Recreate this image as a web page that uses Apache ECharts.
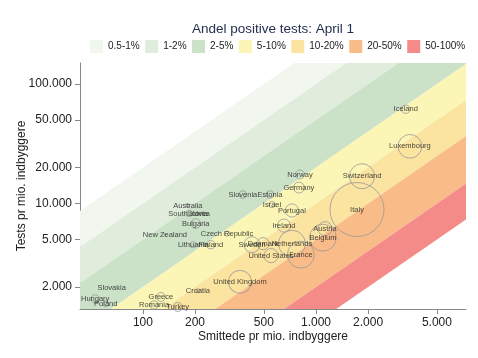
<!DOCTYPE html>
<html>
<head>
<meta charset="utf-8">
<script src="https://cdn.jsdelivr.net/npm/echarts@6/dist/echarts.min.js"></script>
<style>html,body{margin:0;padding:0;background:#fff}#c{width:478px;height:358px}</style>
</head>
<body>
<div id="c"></div>
<script>
// ---- data ----
const countries = ['Iceland','Luxembourg','Switzerland','Italy','Norway','Germany','Slovenia','Estonia','Israel','Portugal','Ireland','Austria','Belgium','Netherlands','France','United States','Sweden','Denmark','Czech Republic','Lithuania','Finland','Bulgaria','Australia','South Korea','Latvia','New Zealand','Slovakia','Hungary','Poland','Greece','Romania','Turkey','Croatia','United Kingdom'];
const casesPerMio = [3300,3490,1845,1726,808,797,378,542,557,726,653,1127,1097,726,818,550,427,494,306,195,247,202,182,185,208,134,66,53,61,127,116,159,208,364];
const testsPerMio = [61500,30100,16900,8900,17500,13600,11900,11900,9800,8740,6530,6160,5180,4610,3730,3660,4520,4610,5600,4520,4520,6790,9620,8240,8240,5490,1970,1590,1445,1650,1415,1360,1860,2210];
const deathsPerMio = [5,42,47,218,6,9,4,4,3,13,13,15,54,54,54,15,19,11,2,3,5,7,1,3,0.3,0.2,0,4.8,2.5,6,4.8,6,1.2,39];
const bandLabels = ['0.5-1%','1-2%','2-5%','5-10%','10-20%','20-50%','50-100%'];
const bandLowPct = [0.5,1,2,5,10,20,50];
const bandHighPct = [1,2,5,10,20,50,100];
const xTicks = [100,200,500,1000,2000,5000];
const yTicks = [2000,5000,10000,20000,50000,100000];
const xRange = [43.3, 7360];
const yRange = [1309, 150000];

// ---- styles ----
const bandColors = ['#f1f6ef','#e0ecdc','#cbe2c8','#fbf6b5','#fbe3a0','#f9bc89','#f58b88'];
const FONT = '"Liberation Sans", Arial, Helvetica, sans-serif';
const L = Math.log10;
const fmt = n => String(n).replace(/\B(?=(\d{3})+(?!\d))/g, '.');

const series = bandLabels.map((name, i) => ({
  type: 'custom', name, coordinateSystem: 'cartesian2d', clip: true, silent: true, z: 1,
  itemStyle: { color: bandColors[i] },
  data: [[L(xRange[0]) + 0.1, L(yRange[0]) + 0.1]],
  renderItem: (params, api) => {
    const lo = L(bandLowPct[i] / 100), hi = L(bandHighPct[i] / 100);
    const X0 = 0, X1 = 6;
    const pts = [[X0, X0 - hi], [X1, X1 - hi], [X1, X1 - lo], [X0, X0 - lo]].map(p => api.coord(p));
    const cs = params.coordSys;
    return {
      type: 'polygon', shape: { points: pts }, style: { fill: bandColors[i] },
      clipPath: { type: 'rect', shape: { x: cs.x, y: cs.y, width: cs.width, height: cs.height } }
    };
  }
}));

series.push({
  type: 'scatter', z: 5, silent: true,
  data: countries.map((c, i) => ({ name: c, value: [L(casesPerMio[i]), L(testsPerMio[i]), deathsPerMio[i]] })),
  symbolSize: v => Math.max(0.5, 3.66 * Math.sqrt(v[2])),
  itemStyle: { color: 'rgba(0,0,0,0)', borderColor: '#999', borderWidth: 1 },
  label: { show: true, position: 'inside', formatter: '{b}', fontSize: 7.5, color: '#1a1a1a', fontFamily: FONT },
  emphasis: { disabled: true }
});

const chart = echarts.init(document.getElementById('c'), null, { renderer: 'canvas' });
chart.setOption({
  backgroundColor: '#fff',
  animation: false,
  textStyle: { fontFamily: FONT },
  title: {
    text: 'Andel positive tests: April 1', left: 187, top: 17,
    textStyle: { fontSize: 13.5, fontWeight: 'normal', color: '#23314f', fontFamily: FONT }
  },
  legend: {
    data: bandLabels, left: 85, top: 35, icon: 'rect', itemWidth: 13, itemHeight: 13, itemGap: 5.5,
    selectedMode: false, textStyle: { fontSize: 10, color: '#222', fontFamily: FONT }
  },
  grid: { left: 80, right: 12, top: 63, bottom: 49, containLabel: false },
  xAxis: {
    type: 'value', min: L(xRange[0]), max: L(xRange[1]),
    axisLine: { show: true, lineStyle: { color: '#888', width: 1 } },
    axisTick: { show: true, length: 5, customValues: xTicks.map(L), lineStyle: { color: '#888' } },
    axisLabel: { customValues: xTicks.map(L), formatter: v => fmt(Math.round(Math.pow(10, v))), fontSize: 12, color: '#222', margin: 8, fontFamily: FONT },
    splitLine: { show: false },
    name: 'Smittede pr mio. indbyggere', nameLocation: 'middle', nameGap: 22, nameMoveOverlap: false,
    nameTextStyle: { fontSize: 12, color: '#222', fontFamily: FONT }
  },
  yAxis: {
    type: 'value', min: L(yRange[0]), max: L(yRange[1]),
    axisLine: { show: true, lineStyle: { color: '#888', width: 1 } },
    axisTick: { show: true, length: 5, customValues: yTicks.map(L), lineStyle: { color: '#888' } },
    axisLabel: { customValues: yTicks.map(L), formatter: v => fmt(Math.round(Math.pow(10, v))), fontSize: 12, color: '#222', margin: 8, fontFamily: FONT },
    splitLine: { show: false },
    name: 'Tests pr mio. indbyggere', nameLocation: 'middle', nameGap: 52, nameMoveOverlap: false,
    nameTextStyle: { fontSize: 12, color: '#222', fontFamily: FONT }
  },
  series
});
</script>
</body>
</html>
